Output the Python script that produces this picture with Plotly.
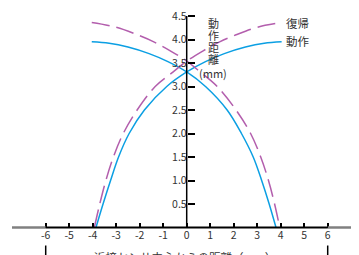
import plotly.graph_objects as go

# ---- data ----
x_ticks = [-6, -5, -4, -3, -2, -1, 0, 1, 2, 3, 4, 5, 6]
x_ticktext = ["-6", "-5", "-4", "-3", "-2", "-1", "0", "1", "2", "3", "4", "5", "6"]
y_ticks = [0.5, 1.0, 1.5, 2.0, 2.5, 3.0, 3.5, 4.0, 4.5]
y_ticktext = ["0.5", "1.0", "1.5", "2.0", "2.5", "3.0", "3.5", "4.0", "4.5"]

# 動作 (operate) – solid blue
op_rise_x = [-3.86, -3.56, -3.24, -2.9, -2.45, -1.8, -0.85, 0, 0.8, 1.6, 2.5, 3.3, 4.04]
op_rise_y = [0, 0.5, 1.0, 1.5, 2.0, 2.5, 3.0, 3.31, 3.53, 3.70, 3.84, 3.92, 3.95]
op_fall_x = [-4.04, -3.3, -2.5, -1.6, -0.8, 0, 0.8, 1.72, 2.33, 2.83, 3.19, 3.51, 3.8]
op_fall_y = [3.95, 3.92, 3.84, 3.70, 3.53, 3.31, 3.0, 2.5, 2.0, 1.5, 1.0, 0.5, 0]

# 復帰 (release) – dashed purple
re_rise_x = [-3.93, -3.70, -3.44, -3.12, -2.70, -2.11, -1.34, -0.6, 0, 0.7, 1.4, 2.1, 3.0, 4.04]
re_rise_y = [0, 0.5, 1.0, 1.5, 2.0, 2.5, 3.0, 3.30, 3.54, 3.76, 3.95, 4.10, 4.26, 4.36]
re_fall_x = [-4.04, -3.0, -2.1, -1.4, -0.7, 0, 0.6, 1.3, 2.1, 2.72, 3.15, 3.48, 3.74, 3.96]
re_fall_y = [4.36, 4.26, 4.10, 3.95, 3.76, 3.54, 3.30, 3.0, 2.5, 2.0, 1.5, 1.0, 0.5, 0]

label_op = "動作"
label_re = "復帰"
y_title_chars = ["動", "作", "距", "離", "(mm)"]
x_title = "近接センサ中心からの距離（mm）"

# ---- styling / layout geometry ----
BLUE = "#0b9fe3"
PURPLE = "#b35ead"
FONT = "Noto Sans CJK JP"
TXT = "#333333"

OFF = 8                       # page body margin offset
VW, VH = 359, 255             # viewport
W, H = VW - OFF, VH - OFF     # figure size
X0_PX, PX_PER_X = 186.7 - OFF, 23.5
Y0_PX, PX_PER_Y = 227.5 - OFF, 47.0
xr = [-X0_PX / PX_PER_X, (W - X0_PX) / PX_PER_X]
yr = [-(H - Y0_PX) / PX_PER_Y, Y0_PX / PX_PER_Y]


def px_to_y(py_view):
    return (Y0_PX - (py_view - OFF)) / PX_PER_Y


def px_to_x(px_view):
    return ((px_view - OFF) - X0_PX) / PX_PER_X


fig = go.Figure()
for xs, ys, col, dash in [
    (op_rise_x, op_rise_y, BLUE, "solid"),
    (op_fall_x, op_fall_y, BLUE, "solid"),
    (re_rise_x, re_rise_y, PURPLE, "18px,7px"),
    (re_fall_x, re_fall_y, PURPLE, "18px,7px"),
]:
    fig.add_trace(go.Scatter(x=xs, y=ys, mode="lines",
                             line=dict(color=col, width=1.5, dash=dash, shape="spline", smoothing=1.0),
                             showlegend=False, hoverinfo="skip"))

shapes = [
    dict(type="line", x0=px_to_x(12), x1=-6, y0=0, y1=0, line=dict(color="#808080", width=2.5)),
    dict(type="line", x0=6, x1=xr[1], y0=0, y1=0, line=dict(color="#808080", width=2.5)),
    dict(type="line", x0=-6, x1=6, y0=0, y1=0, line=dict(color="black", width=2)),
    dict(type="line", x0=0, x1=0, y0=0, y1=4.5, line=dict(color="black", width=1.5)),
    dict(type="line", x0=-6, x1=-6, y0=px_to_y(245.5), y1=yr[0], line=dict(color="black", width=1.5)),
    dict(type="line", x0=6, x1=6, y0=px_to_y(245.5), y1=yr[0], line=dict(color="black", width=1.5)),
]

annotations = [
    dict(x=op_rise_x[-1], y=op_rise_y[-1], text=label_op, showarrow=False, xanchor="left",
         yanchor="middle", xshift=2, yshift=1, font=dict(family=FONT, size=11.5, color=TXT)),
    dict(x=re_rise_x[-1], y=re_rise_y[-1], text=label_re, showarrow=False, xanchor="left",
         yanchor="middle", xshift=2, yshift=0, font=dict(family=FONT, size=11.5, color=TXT)),
    dict(x=0, xref="x", y=(H - (257.5 - OFF)) / H, yref="paper", text=x_title, showarrow=False,
         xanchor="center", yanchor="middle", xshift=-2, font=dict(family=FONT, size=11.5, color=TXT)),
]
for ch, py in zip(y_title_chars, [23.0, 35.0, 47.0, 58.5, 73.3]):
    annotations.append(dict(x=px_to_x(213.3), y=px_to_y(py), text=ch,
                            showarrow=False, xanchor="center", yanchor="middle",
                            font=dict(family=FONT, size=11, color=TXT)))

fig.update_layout(
    width=W, height=H, margin=dict(l=0, r=0, t=0, b=0),
    paper_bgcolor="white", plot_bgcolor="white",
    shapes=shapes, annotations=annotations,
    xaxis=dict(range=xr, anchor="free", position=(H - Y0_PX) / H, showgrid=False, zeroline=False,
               showline=False, ticks="inside", ticklen=5, tickwidth=1.5, tickcolor="black",
               tickmode="array", tickvals=x_ticks, ticktext=x_ticktext, ticklabeloverflow="allow",
               tickfont=dict(family=FONT, size=10.5, color=TXT), fixedrange=True),
    yaxis=dict(range=yr, anchor="free", position=X0_PX / W, showgrid=False, zeroline=False,
               showline=False, ticks="inside", ticklen=7, tickwidth=1.5, tickcolor="black",
               tickmode="array", tickvals=y_ticks, ticktext=y_ticktext, ticklabeloverflow="allow",
               tickfont=dict(family=FONT, size=10.5, color=TXT), fixedrange=True),
)

fig.write_html("out.html")
